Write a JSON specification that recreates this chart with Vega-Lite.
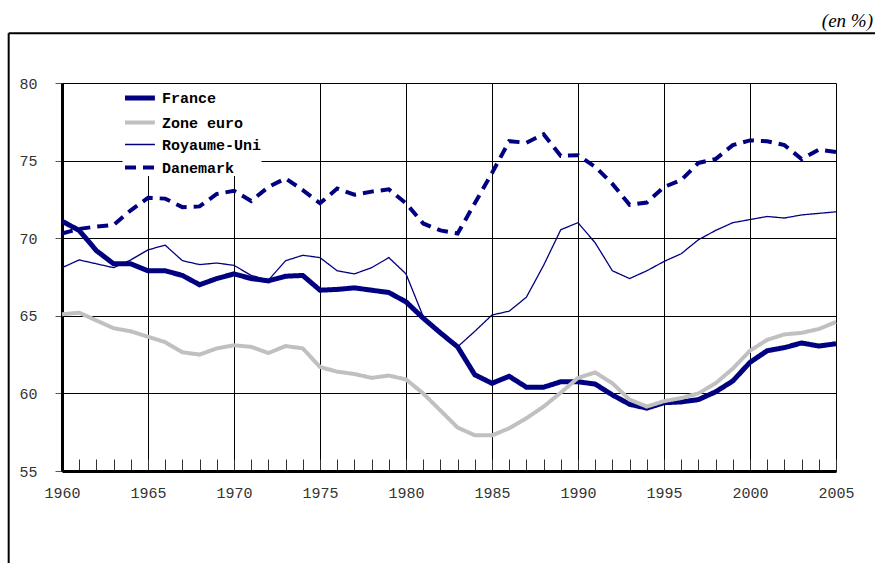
{
  "$schema": "https://vega.github.io/schema/vega-lite/v6.json",
  "width": 774,
  "height": 388,
  "autosize": "none",
  "padding": {"left": 62, "top": 83, "right": 39, "bottom": 92},
  "background": "white",
  "config": {"view": {"stroke": null}},
  "title": {"text": "(en %)", "anchor": "end", "orient": "top", "frame": "group", "font": "Liberation Serif", "fontStyle": "italic", "fontSize": 19, "fontWeight": "normal", "color": "#000", "offset": 1, "dx": 37},
  "resolve": {"axis": {"x": "independent", "y": "independent"}},
  "data": {"values": [
    {"annee": 1960, "France": 71.1, "Zone euro": 65.1, "Royaume-Uni": 68.1, "Danemark": 70.3},
    {"annee": 1961, "France": 70.5, "Zone euro": 65.2, "Royaume-Uni": 68.6, "Danemark": 70.6},
    {"annee": 1962, "France": 69.2, "Zone euro": 64.7, "Royaume-Uni": 68.35, "Danemark": 70.75},
    {"annee": 1963, "France": 68.35, "Zone euro": 64.2, "Royaume-Uni": 68.1, "Danemark": 70.85},
    {"annee": 1964, "France": 68.35, "Zone euro": 64.0, "Royaume-Uni": 68.6, "Danemark": 71.8},
    {"annee": 1965, "France": 67.9, "Zone euro": 63.65, "Royaume-Uni": 69.25, "Danemark": 72.6},
    {"annee": 1966, "France": 67.9, "Zone euro": 63.3, "Royaume-Uni": 69.55, "Danemark": 72.55},
    {"annee": 1967, "France": 67.6, "Zone euro": 62.65, "Royaume-Uni": 68.55, "Danemark": 72.0},
    {"annee": 1968, "France": 67.0, "Zone euro": 62.5, "Royaume-Uni": 68.3, "Danemark": 72.05},
    {"annee": 1969, "France": 67.4, "Zone euro": 62.9, "Royaume-Uni": 68.4, "Danemark": 72.85},
    {"annee": 1970, "France": 67.7, "Zone euro": 63.1, "Royaume-Uni": 68.25, "Danemark": 73.05},
    {"annee": 1971, "France": 67.4, "Zone euro": 63.0, "Royaume-Uni": 67.6, "Danemark": 72.4},
    {"annee": 1972, "France": 67.25, "Zone euro": 62.6, "Royaume-Uni": 67.3, "Danemark": 73.3},
    {"annee": 1973, "France": 67.55, "Zone euro": 63.05, "Royaume-Uni": 68.55, "Danemark": 73.85},
    {"annee": 1974, "France": 67.6, "Zone euro": 62.9, "Royaume-Uni": 68.9, "Danemark": 73.1},
    {"annee": 1975, "France": 66.65, "Zone euro": 61.7, "Royaume-Uni": 68.75, "Danemark": 72.25},
    {"annee": 1976, "France": 66.7, "Zone euro": 61.4, "Royaume-Uni": 67.9, "Danemark": 73.2},
    {"annee": 1977, "France": 66.8, "Zone euro": 61.25, "Royaume-Uni": 67.7, "Danemark": 72.8},
    {"annee": 1978, "France": 66.65, "Zone euro": 61.0, "Royaume-Uni": 68.1, "Danemark": 73.0},
    {"annee": 1979, "France": 66.5, "Zone euro": 61.15, "Royaume-Uni": 68.75, "Danemark": 73.15},
    {"annee": 1980, "France": 65.9, "Zone euro": 60.9, "Royaume-Uni": 67.7, "Danemark": 72.25},
    {"annee": 1981, "France": 64.85, "Zone euro": 60.0, "Royaume-Uni": 64.95, "Danemark": 70.95},
    {"annee": 1982, "France": 63.9, "Zone euro": 58.9, "Royaume-Uni": 63.9, "Danemark": 70.5},
    {"annee": 1983, "France": 63.0, "Zone euro": 57.8, "Royaume-Uni": 63.0, "Danemark": 70.3},
    {"annee": 1984, "France": 61.2, "Zone euro": 57.3, "Royaume-Uni": 64.0, "Danemark": 72.25},
    {"annee": 1985, "France": 60.65, "Zone euro": 57.3, "Royaume-Uni": 65.05, "Danemark": 74.2},
    {"annee": 1986, "France": 61.1, "Zone euro": 57.75, "Royaume-Uni": 65.3, "Danemark": 76.25},
    {"annee": 1987, "France": 60.4, "Zone euro": 58.4, "Royaume-Uni": 66.2, "Danemark": 76.15},
    {"annee": 1988, "France": 60.4, "Zone euro": 59.15, "Royaume-Uni": 68.25, "Danemark": 76.7},
    {"annee": 1989, "France": 60.75, "Zone euro": 60.05, "Royaume-Uni": 70.55, "Danemark": 75.3},
    {"annee": 1990, "France": 60.75, "Zone euro": 61.0, "Royaume-Uni": 71.0, "Danemark": 75.35},
    {"annee": 1991, "France": 60.6, "Zone euro": 61.35, "Royaume-Uni": 69.7, "Danemark": 74.6},
    {"annee": 1992, "France": 59.9, "Zone euro": 60.65, "Royaume-Uni": 67.9, "Danemark": 73.5},
    {"annee": 1993, "France": 59.3, "Zone euro": 59.6, "Royaume-Uni": 67.4, "Danemark": 72.15},
    {"annee": 1994, "France": 59.05, "Zone euro": 59.15, "Royaume-Uni": 67.9, "Danemark": 72.3},
    {"annee": 1995, "France": 59.4, "Zone euro": 59.5, "Royaume-Uni": 68.5, "Danemark": 73.3},
    {"annee": 1996, "France": 59.45, "Zone euro": 59.7, "Royaume-Uni": 69.0, "Danemark": 73.75},
    {"annee": 1997, "France": 59.6, "Zone euro": 60.0, "Royaume-Uni": 69.9, "Danemark": 74.85},
    {"annee": 1998, "France": 60.1, "Zone euro": 60.65, "Royaume-Uni": 70.5, "Danemark": 75.1},
    {"annee": 1999, "France": 60.8, "Zone euro": 61.6, "Royaume-Uni": 71.0, "Danemark": 76.0},
    {"annee": 2000, "France": 62.0, "Zone euro": 62.75, "Royaume-Uni": 71.2, "Danemark": 76.3},
    {"annee": 2001, "France": 62.75, "Zone euro": 63.45, "Royaume-Uni": 71.4, "Danemark": 76.25},
    {"annee": 2002, "France": 62.95, "Zone euro": 63.8, "Royaume-Uni": 71.3, "Danemark": 76.0},
    {"annee": 2003, "France": 63.25, "Zone euro": 63.9, "Royaume-Uni": 71.5, "Danemark": 75.1},
    {"annee": 2004, "France": 63.05, "Zone euro": 64.15, "Royaume-Uni": 71.6, "Danemark": 75.7},
    {"annee": 2005, "France": 63.2, "Zone euro": 64.6, "Royaume-Uni": 71.7, "Danemark": 75.55}
  ]},
  "layer": [
    {
      "transform": [{"fold": ["France", "Zone euro", "Royaume-Uni", "Danemark"], "as": ["serie", "valeur"]}],
      "mark": {"type": "line", "strokeCap": "butt", "clip": false},
      "encoding": {
        "x": {"field": "annee", "type": "quantitative",
          "scale": {"domain": [1960, 2005], "nice": false, "zero": false},
          "axis": {"title": null,
            "values": [1960,1961,1962,1963,1964,1965,1966,1967,1968,1969,1970,1971,1972,1973,1974,1975,1976,1977,1978,1979,1980,1981,1982,1983,1984,1985,1986,1987,1988,1989,1990,1991,1992,1993,1994,1995,1996,1997,1998,1999,2000,2001,2002,2003,2004,2005],
            "labelExpr": "datum.value % 5 === 0 ? '' + datum.value : ''",
            "labelOverlap": false, "labelFlush": false, "labelBound": false,
            "grid": true, "gridColor": "#000", "gridWidth": 1,
            "gridOpacity": {"condition": {"test": "datum.value % 5 === 0", "value": 1}, "value": 0},
            "tickSize": -12, "tickColor": "#333", "tickWidth": 1,
            "domainColor": "#000", "domainWidth": 3,
            "labelFont": "Liberation Mono", "labelFontSize": 15, "labelColor": "#333", "labelPadding": 26}
        },
        "y": {"field": "valeur", "type": "quantitative",
          "scale": {"domain": [55, 80], "nice": false, "zero": false},
          "axis": {"title": null, "values": [55, 60, 65, 70, 75, 80],
            "grid": true, "gridColor": "#000", "gridWidth": 1,
            "tickSize": 7, "tickColor": "#555", "tickWidth": 1,
            "domainColor": "#000", "domainWidth": 3,
            "labelFont": "Liberation Mono", "labelFontSize": 15, "labelColor": "#333", "labelPadding": 18}
        },
        "color": {"field": "serie", "type": "nominal",
          "scale": {"domain": ["France", "Zone euro", "Royaume-Uni", "Danemark"], "range": ["#000080", "#C0C0C0", "#000080", "#000080"]},
          "legend": {"orient": "none", "legendX": 60.5, "legendY": 1, "title": null, "fillColor": "white", "padding": 0,
            "symbolType": "M-1,0H1.6", "symbolSize": 529, "labelFont": "Liberation Mono", "labelFontWeight": "bold", "labelFontSize": 15, "labelColor": "#000", "rowPadding": 1, "labelOffset": 11.5}
        },
        "strokeWidth": {"field": "serie", "type": "nominal",
          "scale": {"type": "ordinal", "domain": ["France", "Zone euro", "Royaume-Uni", "Danemark"], "range": [5, 4, 1.3, 4]},
          "legend": {"orient": "none", "legendX": 60.5, "legendY": 1, "title": null, "fillColor": "white", "padding": 0,
            "symbolType": "M-1,0H1.6", "symbolSize": 529, "labelFont": "Liberation Mono", "labelFontWeight": "bold", "labelFontSize": 15, "labelColor": "#000", "rowPadding": 1, "labelOffset": 11.5}
        },
        "strokeDash": {"field": "serie", "type": "nominal",
          "scale": {"domain": ["France", "Zone euro", "Royaume-Uni", "Danemark"], "range": [[1, 0], [1, 0], [1, 0], [11, 7]]},
          "legend": {"orient": "none", "legendX": 60.5, "legendY": 1, "title": null, "fillColor": "white", "padding": 0,
            "symbolType": "M-1,0H1.6", "symbolSize": 529, "labelFont": "Liberation Mono", "labelFontWeight": "bold", "labelFontSize": 15, "labelColor": "#000", "rowPadding": 1, "labelOffset": 11.5}
        }
      }
    },
    {
      "data": {"values": [{}]},
      "mark": {"type": "rule", "clip": false, "color": "#000", "strokeWidth": 2},
      "encoding": {
        "x": {"datum": 1956.9, "type": "quantitative", "axis": null},
        "y": {"datum": 83.2, "type": "quantitative", "axis": null},
        "y2": {"datum": 48.5}
      }
    },
    {
      "data": {"values": [{}]},
      "mark": {"type": "rule", "clip": false, "color": "#000", "strokeWidth": 2},
      "encoding": {
        "y": {"datum": 83.2, "type": "quantitative", "axis": null},
        "x": {"datum": 1956.9, "type": "quantitative", "axis": null},
        "x2": {"datum": 2007.5}
      }
    }
  ]
}
